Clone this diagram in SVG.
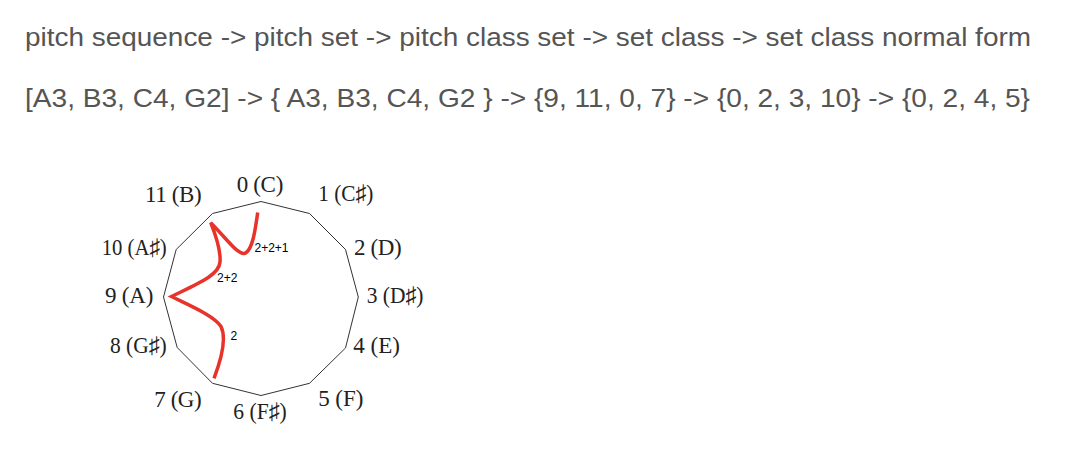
<svg xmlns="http://www.w3.org/2000/svg" width="1078" height="470" viewBox="0 0 1078 470">
  <style>
    .hdr { font-family: "Liberation Sans", Arial, sans-serif; font-size: 25px; fill: #555555; }
    .pc { font-family: "Liberation Serif", "DejaVu Serif", serif; font-size: 23px; fill: #222222; }
    .iv { font-family: "Liberation Sans", Arial, sans-serif; font-size: 12px; fill: #000000; }
    .poly { fill: none; stroke: #333333; stroke-width: 1; stroke-linejoin: miter; }
    .path { fill: none; stroke: #e8332a; stroke-width: 3.5; stroke-linejoin: miter; stroke-linecap: butt; }
  </style>
  <rect width="1078" height="470" fill="#ffffff"/>

  <g id="header-line1">
    <text class="hdr" x="25" y="45.7" textLength="1006" lengthAdjust="spacingAndGlyphs">pitch sequence -&gt; pitch set -&gt; pitch class set -&gt; set class -&gt; set class normal form</text>
  </g>
  <g id="header-line2">
    <text class="hdr" x="25" y="107" textLength="1005" lengthAdjust="spacingAndGlyphs">[A3, B3, C4, G2] -&gt; { A3, B3, C4, G2 } -&gt; {9, 11, 0, 7} -&gt; {0, 2, 3, 10} -&gt; {0, 2, 4, 5}</text>
  </g>

  <g id="pitch-class-circle">
    <polygon class="poly" points="261,201.5 309.5,213.5 345.5,249.5 358.3,297 345.5,348 309.5,383.3 261,395.5 212.5,383.3 177.2,347.5 163.5,297 176.2,249.5 212.5,213.5"/>
  </g>

  <g id="pc-0"><text class="pc" x="236.7" y="191.7" textLength="46.6" lengthAdjust="spacing">0 (C)</text></g>
  <g id="pc-1"><text class="pc" x="318.3" y="201" textLength="55" lengthAdjust="spacingAndGlyphs">1 (C♯)</text></g>
  <g id="pc-2"><text class="pc" x="354" y="254.5" textLength="47.7" lengthAdjust="spacing">2 (D)</text></g>
  <g id="pc-3"><text class="pc" x="366.7" y="303" textLength="56.6" lengthAdjust="spacingAndGlyphs">3 (D♯)</text></g>
  <g id="pc-4"><text class="pc" x="353.3" y="353.3" textLength="46.7" lengthAdjust="spacing">4 (E)</text></g>
  <g id="pc-5"><text class="pc" x="318.3" y="406.3" textLength="45" lengthAdjust="spacing">5 (F)</text></g>
  <g id="pc-6"><text class="pc" x="233.3" y="419" textLength="53.4" lengthAdjust="spacingAndGlyphs">6 (F♯)</text></g>
  <g id="pc-7"><text class="pc" x="154.3" y="406.5" textLength="47.4" lengthAdjust="spacing">7 (G)</text></g>
  <g id="pc-8"><text class="pc" x="110" y="353.3" textLength="56.7" lengthAdjust="spacingAndGlyphs">8 (G♯)</text></g>
  <g id="pc-9"><text class="pc" x="105" y="303.3" textLength="48.3" lengthAdjust="spacing">9 (A)</text></g>
  <g id="pc-10"><text class="pc" x="101.7" y="255" textLength="65" lengthAdjust="spacingAndGlyphs">10 (A♯)</text></g>
  <g id="pc-11"><text class="pc" x="145" y="201.5" textLength="56.7" lengthAdjust="spacing">11 (B)</text></g>

  <g id="connectors">
    <path class="path" d="M257.7,212.5 C255.5,228 253,248 246,252.8 C239,257 228,240 210.7,222.7 C216,236 221,250 220,262 C219,275 199,283 171.5,296.5 C193,307 214,316 221,326.5 C226,337 223,355 214,378.3"/>
  </g>

  <g id="interval-labels">
    <text class="iv" x="254.5" y="251.7">2+2+1</text>
    <text class="iv" x="217" y="281.7">2+2</text>
    <text class="iv" x="230.5" y="340">2</text>
  </g>
</svg>
